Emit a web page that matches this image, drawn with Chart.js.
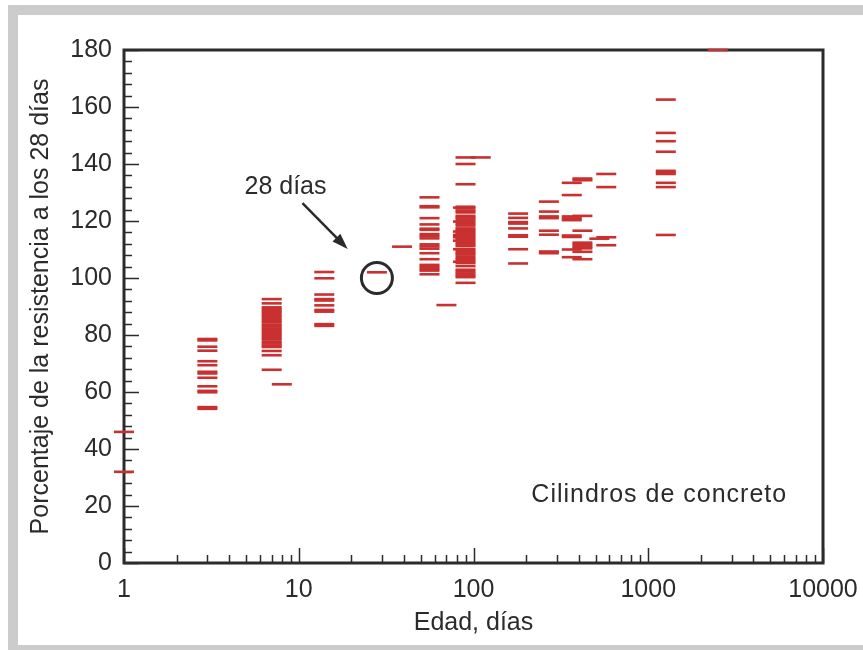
<!DOCTYPE html>
<html>
<head>
<meta charset="utf-8">
<script src="https://cdn.jsdelivr.net/npm/chart.js@4.4.1/dist/chart.umd.min.js"></script>
<style>
  html, body { margin: 0; padding: 0; background: #fff; overflow: hidden; }
  #frame { position: absolute; left: 8px; top: 5px; width: 1000px; height: 630px; border: 10px solid #cccccc; }
  #c { position: absolute; left: 0; top: 0; }
</style>
</head>
<body>
<div id="frame"></div>
<canvas id="c" width="863" height="650"></canvas>
<script>
// ages (days) and the strength readings (% of 28-day strength) at each age
const ages = [1, 3, 7, 8, 14, 28, 39, 56, 70, 87, 90, 110, 180, 270, 365, 420, 525, 575, 1260, 2500];
const strength = [
    [46, 32],
    [78.6, 78.1, 75.9, 74.5, 70.8, 69.4, 67.1, 66.5, 65.0, 62.0, 60.4, 59.9, 54.7, 54.1],
    [92.6, 91.1, 89.7, 89.1, 88.4, 87.8, 87.0, 86.4, 85.7, 85.0, 84.4, 83.6, 83.0, 82.3, 81.7, 81.0,
     80.3, 79.7, 79.0, 78.4, 77.6, 77.0, 76.3, 75.8, 74.4, 72.9, 67.8],
    [62.7],
    [102.1, 99.9, 94.2, 92.6, 92.1, 90.4, 88.8, 88.2, 83.8, 83.2],
    [102],
    [111],
    [128.3, 125.2, 124.8, 121.0, 118.8, 117.3, 116.9, 115.4, 114.7, 113.9, 111.8, 111.1, 110.3, 108.7,
     106.6, 104.6, 103.9, 103.2, 102.6, 101.3],
    [90.5],
    [124.7, 119.8, 116.3, 115.1, 114.3, 113.1, 110.1, 105.7],
    [142.3, 140, 132.9, 125, 124.4, 123.6, 123, 121.8, 121.2, 120.5, 119.8, 119.1, 118.4, 117.4, 116.8,
     116.1, 115.4, 114.7, 114.0, 113.3, 112.6, 111.9, 111.3, 110.2, 109.5, 108.8, 108.2, 107.3, 106.6,
     105.9, 105.3, 104.2, 102.9, 102.3, 101.6, 100.9, 100.3, 98.3],
    [142.3],
    [122.6, 121.1, 119.6, 119.1, 117.4, 115.0, 114.5, 110.1, 105.1],
    [126.8, 123.3, 121.6, 121.0, 116.6, 115.2, 109.3, 108.7],
    [133.4, 129.1, 121.6, 120.9, 120.3, 114.9, 114.4, 110.0, 107.3],
    [134.9, 134.3, 121.8, 116.6, 112.4, 111.7, 111.0, 110.4, 109.2, 106.6],
    [113.8],
    [136.5, 131.9, 114.3, 111.5],
    [162.6, 150.9, 148.0, 144.3, 137.6, 137.0, 136.5, 133.4, 131.9, 115.1],
    [180]
];
const xTicks = [1, 10, 100, 1000, 10000];
const yTicks = [0, 20, 40, 60, 80, 100, 120, 140, 160, 180];

const FONT = "'Liberation Sans', Arial, Helvetica, sans-serif";
const INK = '#2b2b2b';
const RED = '#c93030';

const points = [];
ages.forEach((a, i) => strength[i].forEach(v => points.push({ x: a, y: v })));

// frame, inward ticks (major + minor)
const framePlugin = {
    id: 'framePlugin',
    beforeDatasetsDraw(chart) {
        const { ctx, chartArea: ca, scales: { x, y } } = chart;
        ctx.save();
        ctx.strokeStyle = INK;
        ctx.lineWidth = 1.5;
        ctx.beginPath();
        for (let v = 0; v <= 180; v += 4) {
            const py = Math.round(y.getPixelForValue(v)) + 0.5;
            const len = v % 20 === 0 ? 15 : 8;
            ctx.moveTo(ca.left, py);
            ctx.lineTo(ca.left + len, py);
        }
        for (let d = 1; d < 10000; d *= 10) {
            for (let m = 1; m <= 10; m++) {
                const px = Math.round(x.getPixelForValue(d * m)) + 0.5;
                const len = m === 1 || m === 10 ? 15 : 8;
                ctx.moveTo(px, ca.bottom);
                ctx.lineTo(px, ca.bottom - len);
            }
        }
        ctx.stroke();
        ctx.lineWidth = 3;
        ctx.strokeRect(ca.left, ca.top, ca.right - ca.left, ca.bottom - ca.top);
        ctx.restore();
    }
};

// "28 días" arrow + circle, and the series note
const notePlugin = {
    id: 'notePlugin',
    afterDatasetsDraw(chart) {
        const { ctx, scales: { x, y } } = chart;
        ctx.save();
        ctx.fillStyle = INK;
        ctx.strokeStyle = INK;
        ctx.font = '25px ' + FONT;
        ctx.textAlign = 'center';
        ctx.textBaseline = 'middle';
        ctx.fillText('28 días', x.getPixelForValue(8.4), y.getPixelForValue(132));

        const x1 = x.getPixelForValue(10.5), y1 = y.getPixelForValue(126.3);
        const x2 = x.getPixelForValue(19.05), y2 = y.getPixelForValue(110.2);
        const ang = Math.atan2(y2 - y1, x2 - x1);
        ctx.lineWidth = 2.5;
        ctx.beginPath();
        ctx.moveTo(x1, y1);
        ctx.lineTo(x2 - 10 * Math.cos(ang), y2 - 10 * Math.sin(ang));
        ctx.stroke();
        ctx.beginPath();
        ctx.moveTo(x2, y2);
        ctx.lineTo(x2 - 16 * Math.cos(ang) + 5.5 * Math.sin(ang), y2 - 16 * Math.sin(ang) - 5.5 * Math.cos(ang));
        ctx.lineTo(x2 - 16 * Math.cos(ang) - 5.5 * Math.sin(ang), y2 - 16 * Math.sin(ang) + 5.5 * Math.cos(ang));
        ctx.closePath();
        ctx.fill();

        ctx.lineWidth = 3;
        ctx.beginPath();
        ctx.arc(x.getPixelForValue(28), y.getPixelForValue(100), 15.5, 0, Math.PI * 2);
        ctx.stroke();

        ctx.letterSpacing = '1px';
        ctx.fillText('Cilindros de concreto', x.getPixelForValue(1156), y.getPixelForValue(23.9));
        ctx.restore();
    }
};

new Chart(document.getElementById('c'), {
    type: 'scatter',
    data: {
        datasets: [{
            data: points,
            pointStyle: 'line',
            pointRadius: 10,
            pointHoverRadius: 10,
            borderWidth: 2.6,
            borderColor: RED,
            backgroundColor: RED,
            clip: false
        }]
    },
    options: {
        responsive: false,
        animation: false,
        events: [],
        layout: { padding: { left: 0, right: 40, top: 50, bottom: 0 } },
        plugins: { legend: { display: false }, tooltip: { enabled: false } },
        scales: {
            x: {
                type: 'logarithmic',
                min: 1, max: 10000,
                afterBuildTicks: s => { s.ticks = xTicks.map(v => ({ value: v })); },
                afterFit: s => { s.height = 87; s.paddingLeft = 0; s.paddingRight = 0; },
                grid: { display: false, drawTicks: false },
                border: { display: false },
                ticks: {
                    autoSkip: false, maxRotation: 0, padding: 12, color: INK,
                    font: { family: FONT, size: 25 },
                    callback: v => String(v)
                },
                title: {
                    display: true, text: 'Edad, días', color: INK,
                    font: { family: FONT, size: 25 },
                    padding: { top: 0, bottom: 12 }
                }
            },
            y: {
                min: 0, max: 180,
                afterBuildTicks: s => { s.ticks = yTicks.map(v => ({ value: v })); },
                afterFit: s => { s.width = 124; s.paddingTop = 0; s.paddingBottom = 0; },
                grid: { display: false, drawTicks: false },
                border: { display: false },
                ticks: {
                    padding: 12, color: INK,
                    font: { family: FONT, size: 25 }
                },
                title: {
                    display: true, text: 'Porcentaje de la resistencia a los 28 días', color: INK,
                    font: { family: FONT, size: 25 },
                    padding: { top: 26, bottom: 0 }
                }
            }
        }
    },
    plugins: [framePlugin, notePlugin]
});
</script>
</body>
</html>
